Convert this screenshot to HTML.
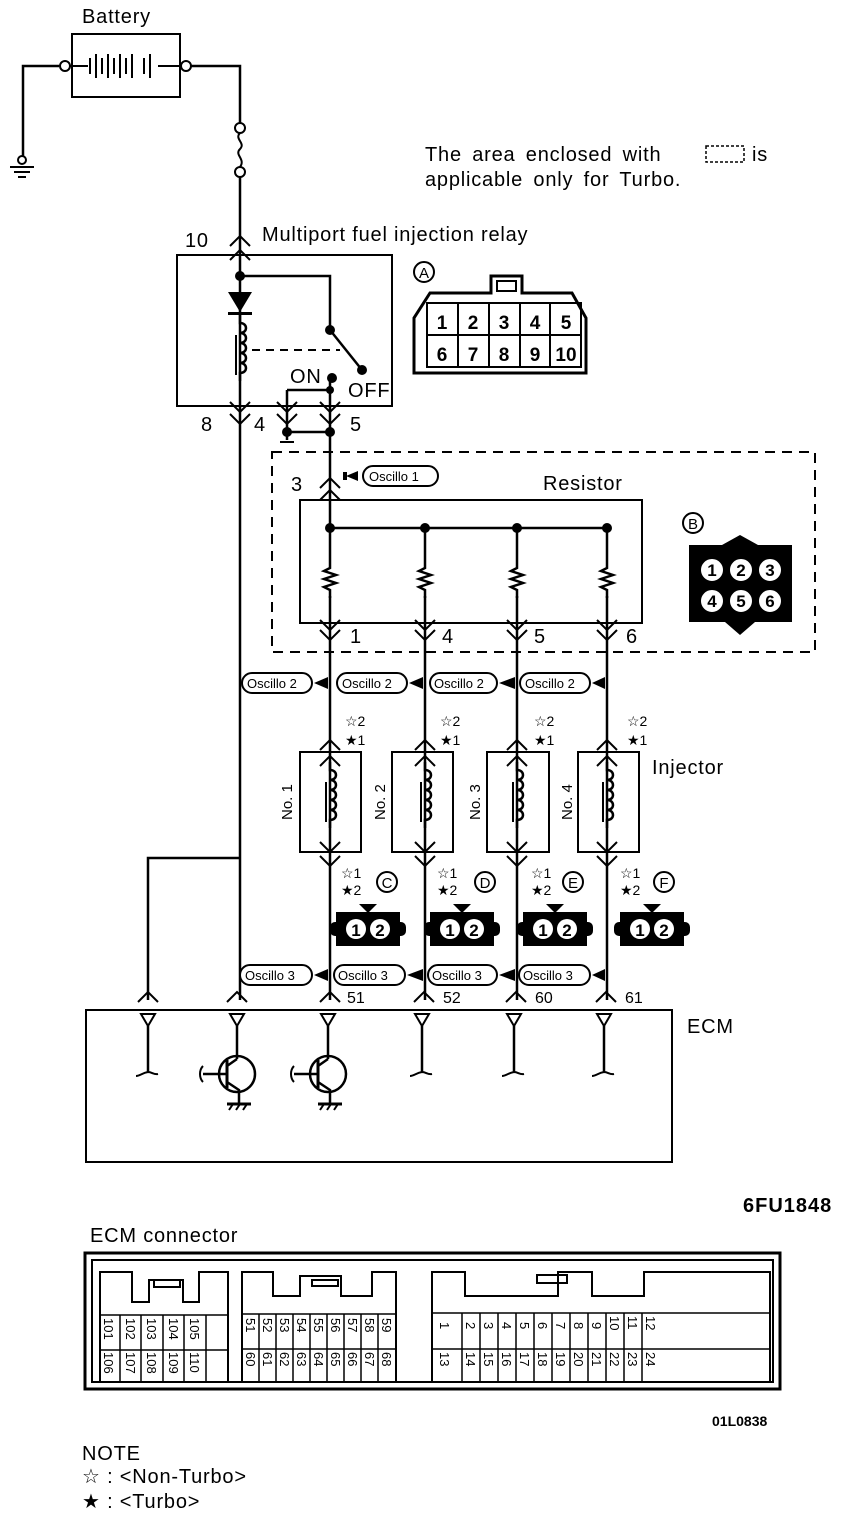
<!DOCTYPE html>
<html><head><meta charset="utf-8"><style>
html,body{margin:0;padding:0;background:#fff}
svg{display:block}
text{font-family:"Liberation Sans",sans-serif;fill:#000}
.big{font-size:20px;letter-spacing:0.8px}
</style></head><body>
<svg width="864" height="1516" viewBox="0 0 864 1516" xmlns="http://www.w3.org/2000/svg">
<defs>
<g id="up"><path d="M-10,10 L0,0 L10,10" fill="none" stroke="#000" stroke-width="2"/></g>
<g id="dn"><path d="M-10,-10 L0,0 L10,-10" fill="none" stroke="#000" stroke-width="2"/></g>
<g id="res"><path d="M0,0 v8 l-6,3 l12,4 l-12,4 l12,4 l-12,4 l6,3 v8" fill="none" stroke="#000" stroke-width="2.5"/></g>
<g id="coil"><path d="M0,-40 v8 c8,0 8,10 0,10 c8,0 8,10 0,10 c8,0 8,10 0,10 c8,0 8,10 0,10 c8,0 8,10 0,10 v8" fill="none" stroke="#000" stroke-width="2.5"/><line x1="-4" y1="-20" x2="-4" y2="20" stroke="#000" stroke-width="2"/></g>
<g id="conn2"><rect x="-32" y="-16" width="64" height="34" fill="#000"/><rect x="-38" y="-6" width="76" height="14" rx="5" fill="#000"/><polygon points="-9,-24 9,-24 0,-15" fill="#000"/><circle cx="-12" cy="1" r="10" fill="#fff"/><circle cx="12" cy="1" r="10" fill="#fff"/><text x="-12" y="8" font-size="17" font-weight="bold" text-anchor="middle">1</text><text x="12" y="8" font-size="17" font-weight="bold" text-anchor="middle">2</text></g>
<g id="ecmpin"><polygon points="-7,0 7,0 0,12" fill="none" stroke="#000" stroke-width="2"/><line x1="0" y1="12" x2="0" y2="58" stroke="#000" stroke-width="2.5"/><path d="M-12,62 c4,0 6,-3 12,-4 c4,0 6,3 10,2" fill="none" stroke="#000" stroke-width="2"/></g>
<g id="tr"><polygon points="-7,0 7,0 0,12" fill="none" stroke="#000" stroke-width="2"/><line x1="0" y1="12" x2="0" y2="45" stroke="#000" stroke-width="2.5"/><circle cx="0" cy="60" r="18" fill="none" stroke="#000" stroke-width="2.5"/><line x1="-10" y1="46" x2="-10" y2="74" stroke="#000" stroke-width="3"/><path d="M-10,52 L0,45 M-10,68 L2,76 V90" fill="none" stroke="#000" stroke-width="2.5"/><line x1="-10" y1="60" x2="-34" y2="60" stroke="#000" stroke-width="2.5"/><path d="M-34,52 c-4,4 -4,12 0,16" fill="none" stroke="#000" stroke-width="2"/><line x1="-10" y1="90" x2="14" y2="90" stroke="#000" stroke-width="3"/><path d="M-8,96 l4,-6 M-1,96 l4,-6 M6,96 l4,-6" stroke="#000" stroke-width="2"/></g>
</defs>
<g stroke="#000" stroke-width="2.5" fill="none">
<rect x="72" y="34" width="108" height="63" stroke-width="2"/>
<path d="M59,66 H23 V158"/>
<circle cx="65" cy="66" r="5" fill="#fff" stroke-width="2"/>
<circle cx="186" cy="66" r="5" fill="#fff" stroke-width="2"/>
<path d="M70,66 H88 M90,58 V74 M96,54 V78 M102,58 V74 M108,54 V78 M114,58 V74 M120,54 V78 M126,58 V74 M132,54 V78 M144,58 V74 M150,54 V78 M158,66 H181" stroke-width="2"/>
<path d="M191,66 H240 V123"/>
<circle cx="22" cy="160" r="4" fill="#fff" stroke-width="2"/>
<path d="M10,167 H34 M14,172 H30 M18,177 H26" stroke-width="2"/>
<circle cx="240" cy="128" r="5" fill="#fff" stroke-width="2"/>
<path d="M240,133 c-6,6 6,10 0,16 c-6,6 6,10 0,18" stroke-width="2"/>
<circle cx="240" cy="172" r="5" fill="#fff" stroke-width="2"/>
<path d="M240,177 V1000"/>
<rect x="177" y="255" width="215" height="151" stroke-width="2"/>
<path d="M240,276 H330 V330"/>
<path d="M330,330 L362,370"/>
<path d="M252,350 H340" stroke-dasharray="8,6" stroke-width="2"/>
<path d="M287,390 H330 M287,390 V440 M287,432 H330 M330,378 V485"/>
<path d="M280,442 h14" stroke-width="2"/>
<rect x="272" y="452" width="543" height="200" stroke-dasharray="10,7" stroke-width="2"/>
<rect x="300" y="500" width="342" height="123" stroke-width="2"/>
<path d="M330,528 H607"/>
<path d="M330,485 V560 M425,528 V560 M517,528 V560 M607,528 V560"/>
<path d="M330,596 V1000 M425,596 V1000 M517,596 V1000 M607,596 V1000"/>
<path d="M148,1000 V858 H240"/>
<rect x="300" y="752" width="61" height="100" stroke-width="2"/>
<rect x="392" y="752" width="61" height="100" stroke-width="2"/>
<rect x="487" y="752" width="62" height="100" stroke-width="2"/>
<rect x="578" y="752" width="61" height="100" stroke-width="2"/>
<path d="M86,1010 H672 V1162 H86 Z" stroke-width="2"/>
</g>
<g fill="#000">
<circle cx="240" cy="276" r="5"/><circle cx="330" cy="330" r="5"/><circle cx="362" cy="370" r="5"/><circle cx="332" cy="378" r="5"/><circle cx="330" cy="390" r="4"/>
<circle cx="287" cy="432" r="5"/><circle cx="330" cy="432" r="5"/>
<circle cx="330" cy="528" r="5"/><circle cx="425" cy="528" r="5"/><circle cx="517" cy="528" r="5"/><circle cx="607" cy="528" r="5"/>
<polygon points="228,292 252,292 240,312"/>
<rect x="228" y="312" width="24" height="3"/>
</g>
<use href="#coil" x="240" y="355"/>
<use href="#res" x="330" y="560"/><use href="#res" x="425" y="560"/><use href="#res" x="517" y="560"/><use href="#res" x="607" y="560"/>
<use href="#up" x="240" y="236"/><use href="#up" x="240" y="250"/>
<use href="#dn" x="240" y="412"/><use href="#dn" x="240" y="424"/>
<use href="#dn" x="287" y="412"/><use href="#dn" x="287" y="424"/>
<use href="#dn" x="330" y="412"/><use href="#dn" x="330" y="424"/>
<use href="#up" x="330" y="478"/><use href="#up" x="330" y="490"/>
<g>
<use href="#dn" x="330" y="630"/><use href="#dn" x="330" y="640"/>
<use href="#dn" x="425" y="630"/><use href="#dn" x="425" y="640"/>
<use href="#dn" x="517" y="630"/><use href="#dn" x="517" y="640"/>
<use href="#dn" x="607" y="630"/><use href="#dn" x="607" y="640"/>
</g>
<g>
<use href="#up" x="330" y="740"/><use href="#up" x="330" y="756"/>
<use href="#up" x="425" y="740"/><use href="#up" x="425" y="756"/>
<use href="#up" x="517" y="740"/><use href="#up" x="517" y="756"/>
<use href="#up" x="607" y="740"/><use href="#up" x="607" y="756"/>
<use href="#coil" x="330" y="802"/><use href="#coil" x="425" y="802"/><use href="#coil" x="517" y="802"/><use href="#coil" x="607" y="802"/>
<use href="#dn" x="330" y="852"/><use href="#dn" x="330" y="866"/>
<use href="#dn" x="425" y="852"/><use href="#dn" x="425" y="866"/>
<use href="#dn" x="517" y="852"/><use href="#dn" x="517" y="866"/>
<use href="#dn" x="607" y="852"/><use href="#dn" x="607" y="866"/>
</g>
<g>
<use href="#up" x="148" y="992"/><use href="#up" x="237" y="992"/><use href="#up" x="330" y="992"/><use href="#up" x="424" y="992"/><use href="#up" x="516" y="992"/><use href="#up" x="606" y="992"/>
<use href="#ecmpin" x="148" y="1014"/><use href="#tr" x="237" y="1014"/><use href="#tr" x="328" y="1014"/>
<use href="#ecmpin" x="422" y="1014"/><use href="#ecmpin" x="514" y="1014"/><use href="#ecmpin" x="604" y="1014"/>
</g>
<use href="#conn2" x="368" y="928"/><use href="#conn2" x="462" y="928"/><use href="#conn2" x="555" y="928"/><use href="#conn2" x="652" y="928"/>
<g fill="#fff" stroke="#000" stroke-width="2">
<rect x="363" y="466" width="75" height="20" rx="10"/>
<rect x="242" y="673" width="70" height="20" rx="10"/><rect x="337" y="673" width="70" height="20" rx="10"/><rect x="430" y="673" width="67" height="20" rx="10"/><rect x="520" y="673" width="70" height="20" rx="10"/>
<rect x="240" y="965" width="72" height="20" rx="10"/><rect x="334" y="965" width="71" height="20" rx="10"/><rect x="428" y="965" width="69" height="20" rx="10"/><rect x="519" y="965" width="71" height="20" rx="10"/>
</g>
<g fill="#000">
<polygon points="346,476 358,471 358,481"/><rect x="343" y="472" width="4" height="8"/>
<polygon points="314,683 328,677 328,689"/><polygon points="409,683 423,677 423,689"/><polygon points="499,683 515,677 515,689"/><polygon points="592,683 605,677 605,689"/>
<polygon points="314,975 328,969 328,981"/><polygon points="407,975 423,969 423,981"/><polygon points="499,975 515,969 515,981"/><polygon points="592,975 605,969 605,981"/>
</g>
<g font-size="13">
<text x="369" y="481">Oscillo 1</text>
<text x="247" y="688">Oscillo 2</text><text x="342" y="688">Oscillo 2</text><text x="434" y="688">Oscillo 2</text><text x="525" y="688">Oscillo 2</text>
<text x="245" y="980">Oscillo 3</text><text x="338" y="980">Oscillo 3</text><text x="432" y="980">Oscillo 3</text><text x="523" y="980">Oscillo 3</text>
</g>
<g stroke="#000" fill="none" stroke-width="3">
<path d="M414,373 V318 L430,293 H491 V276 H522 V293 H572 L586,318 V373 Z"/>
<rect x="497" y="281" width="19" height="10" stroke-width="2"/>
<path d="M427,303 H581 V367 H427 Z M427,335 H581 M458,303 V367 M489,303 V367 M520,303 V367 M550,303 V367" stroke-width="2"/>
</g>
<g font-size="19" font-weight="bold" text-anchor="middle">
<text x="442" y="329">1</text><text x="473" y="329">2</text><text x="504" y="329">3</text><text x="535" y="329">4</text><text x="566" y="329">5</text>
<text x="442" y="361">6</text><text x="473" y="361">7</text><text x="504" y="361">8</text><text x="535" y="361">9</text><text x="566" y="361">10</text>
</g>
<rect x="689" y="545" width="103" height="77" fill="#000"/>
<polygon points="722,545 740,535 758,545 740,552" fill="#000"/>
<polygon points="725,622 755,622 740,635" fill="#000"/>
<g fill="#fff" stroke="#000" stroke-width="2"><circle cx="712" cy="570" r="12"/><circle cx="741" cy="570" r="12"/><circle cx="770" cy="570" r="12"/><circle cx="712" cy="601" r="12"/><circle cx="741" cy="601" r="12"/><circle cx="770" cy="601" r="12"/></g>
<g font-size="17" font-weight="bold" text-anchor="middle"><text x="712" y="576">1</text><text x="741" y="576">2</text><text x="770" y="576">3</text><text x="712" y="607">4</text><text x="741" y="607">5</text><text x="770" y="607">6</text></g>
<g fill="none" stroke="#000" stroke-width="2"><circle cx="424" cy="272" r="10"/><circle cx="693" cy="523" r="10"/><circle cx="387" cy="882" r="10"/><circle cx="485" cy="882" r="10"/><circle cx="573" cy="882" r="10"/><circle cx="664" cy="882" r="10"/></g>
<g font-size="15" text-anchor="middle"><text x="424" y="278">A</text><text x="693" y="529">B</text><text x="387" y="888">C</text><text x="485" y="888">D</text><text x="573" y="888">E</text><text x="664" y="888">F</text></g>
<g class="big">
<text x="82" y="23">Battery</text>
<text x="425" y="161" word-spacing="4">The area enclosed with</text>
<text x="752" y="161">is</text>
<text x="425" y="186" word-spacing="4">applicable only for Turbo.</text>
<text x="185" y="247">10</text>
<text x="262" y="241">Multiport fuel injection relay</text>
<text x="290" y="383">ON</text><text x="348" y="397">OFF</text>
<text x="201" y="431">8</text><text x="254" y="431">4</text><text x="350" y="431">5</text>
<text x="291" y="491">3</text>
<text x="543" y="490">Resistor</text>
<text x="350" y="643">1</text><text x="442" y="643">4</text><text x="534" y="643">5</text><text x="626" y="643">6</text>
<text x="652" y="774">Injector</text>
<text x="687" y="1033">ECM</text>
<text x="90" y="1242">ECM connector</text>
<text x="82" y="1460">NOTE</text>
<text x="82" y="1483">☆ :  &lt;Non-Turbo&gt;</text>
<text x="82" y="1508">★ :  &lt;Turbo&gt;</text>
</g>
<rect x="706" y="146" width="38" height="16" fill="none" stroke="#000" stroke-width="1.5" stroke-dasharray="3,2"/>
<g font-size="16">
<text x="347" y="1003">51</text><text x="443" y="1003">52</text><text x="535" y="1003">60</text><text x="625" y="1003">61</text>
</g>
<g font-size="14">
<text x="345" y="726">☆2</text><text x="345" y="745">★1</text>
<text x="440" y="726">☆2</text><text x="440" y="745">★1</text>
<text x="534" y="726">☆2</text><text x="534" y="745">★1</text>
<text x="627" y="726">☆2</text><text x="627" y="745">★1</text>
<text x="341" y="878">☆1</text><text x="341" y="895">★2</text>
<text x="437" y="878">☆1</text><text x="437" y="895">★2</text>
<text x="531" y="878">☆1</text><text x="531" y="895">★2</text>
<text x="620" y="878">☆1</text><text x="620" y="895">★2</text>
</g>
<g font-size="15">
<text transform="translate(292,820) rotate(-90)">No. 1</text>
<text transform="translate(385,820) rotate(-90)">No. 2</text>
<text transform="translate(480,820) rotate(-90)">No. 3</text>
<text transform="translate(572,820) rotate(-90)">No. 4</text>
</g>
<text x="743" y="1212" font-size="20" font-weight="bold" letter-spacing="1">6FU1848</text>
<text x="712" y="1426" font-size="14" font-weight="bold">01L0838</text>
<g fill="none" stroke="#000">
<rect x="85" y="1253" width="695" height="136" stroke-width="3"/>
<rect x="92" y="1260" width="681" height="122" stroke-width="2"/>
<path d="M100,1382 V1272 H132 V1302 H149 V1280 H183 V1302 H199 V1272 H228 V1382" stroke-width="2"/>
<rect x="154" y="1280" width="26" height="7" stroke-width="2"/>
<path d="M242,1382 V1272 H273 V1296 H300 V1276 H341 V1296 H372 V1272 H396 V1382" stroke-width="2"/>
<rect x="312" y="1280" width="26" height="6" stroke-width="2"/>
<path d="M432,1382 V1272 H465 V1296 H558 V1272 H592 V1296 H644 V1272 H770 V1382" stroke-width="2"/>
<rect x="537" y="1275" width="30" height="8" stroke-width="2"/>
<path d="M100,1315 H228 M100,1350 H228 M120,1315 V1382 M141,1315 V1382 M163,1315 V1382 M184,1315 V1382 M206,1315 V1382" stroke-width="1.5"/>
<path d="M242,1314 H396 M242,1349 H396 M259,1314 V1382 M276,1314 V1382 M293,1314 V1382 M310,1314 V1382 M327,1314 V1382 M344,1314 V1382 M361,1314 V1382 M378,1314 V1382" stroke-width="1.5"/>
<path d="M432,1313 H770 M432,1349 H770 M462,1313 V1382 M480,1313 V1382 M498,1313 V1382 M516,1313 V1382 M534,1313 V1382 M552,1313 V1382 M570,1313 V1382 M588,1313 V1382 M606,1313 V1382 M624,1313 V1382 M642,1313 V1382" stroke-width="1.5"/>
</g>
<g font-size="13">
<text transform="translate(104,1318) rotate(90)">101</text><text transform="translate(126,1318) rotate(90)">102</text><text transform="translate(147,1318) rotate(90)">103</text><text transform="translate(169,1318) rotate(90)">104</text><text transform="translate(190,1318) rotate(90)">105</text>
<text transform="translate(104,1352) rotate(90)">106</text><text transform="translate(126,1352) rotate(90)">107</text><text transform="translate(147,1352) rotate(90)">108</text><text transform="translate(169,1352) rotate(90)">109</text><text transform="translate(190,1352) rotate(90)">110</text>
<text transform="translate(246,1318) rotate(90)">51</text><text transform="translate(263,1318) rotate(90)">52</text><text transform="translate(280,1318) rotate(90)">53</text><text transform="translate(297,1318) rotate(90)">54</text><text transform="translate(314,1318) rotate(90)">55</text><text transform="translate(331,1318) rotate(90)">56</text><text transform="translate(348,1318) rotate(90)">57</text><text transform="translate(365,1318) rotate(90)">58</text><text transform="translate(382,1318) rotate(90)">59</text>
<text transform="translate(246,1352) rotate(90)">60</text><text transform="translate(263,1352) rotate(90)">61</text><text transform="translate(280,1352) rotate(90)">62</text><text transform="translate(297,1352) rotate(90)">63</text><text transform="translate(314,1352) rotate(90)">64</text><text transform="translate(331,1352) rotate(90)">65</text><text transform="translate(348,1352) rotate(90)">66</text><text transform="translate(365,1352) rotate(90)">67</text><text transform="translate(382,1352) rotate(90)">68</text>
<text transform="translate(440,1322) rotate(90)">1</text><text transform="translate(466,1322) rotate(90)">2</text><text transform="translate(484,1322) rotate(90)">3</text><text transform="translate(502,1322) rotate(90)">4</text><text transform="translate(520,1322) rotate(90)">5</text><text transform="translate(538,1322) rotate(90)">6</text><text transform="translate(556,1322) rotate(90)">7</text><text transform="translate(574,1322) rotate(90)">8</text><text transform="translate(592,1322) rotate(90)">9</text><text transform="translate(610,1316) rotate(90)">10</text><text transform="translate(628,1316) rotate(90)">11</text><text transform="translate(646,1316) rotate(90)">12</text>
<text transform="translate(440,1352) rotate(90)">13</text><text transform="translate(466,1352) rotate(90)">14</text><text transform="translate(484,1352) rotate(90)">15</text><text transform="translate(502,1352) rotate(90)">16</text><text transform="translate(520,1352) rotate(90)">17</text><text transform="translate(538,1352) rotate(90)">18</text><text transform="translate(556,1352) rotate(90)">19</text><text transform="translate(574,1352) rotate(90)">20</text><text transform="translate(592,1352) rotate(90)">21</text><text transform="translate(610,1352) rotate(90)">22</text><text transform="translate(628,1352) rotate(90)">23</text><text transform="translate(646,1352) rotate(90)">24</text>
</g>
</svg>
</body></html>
